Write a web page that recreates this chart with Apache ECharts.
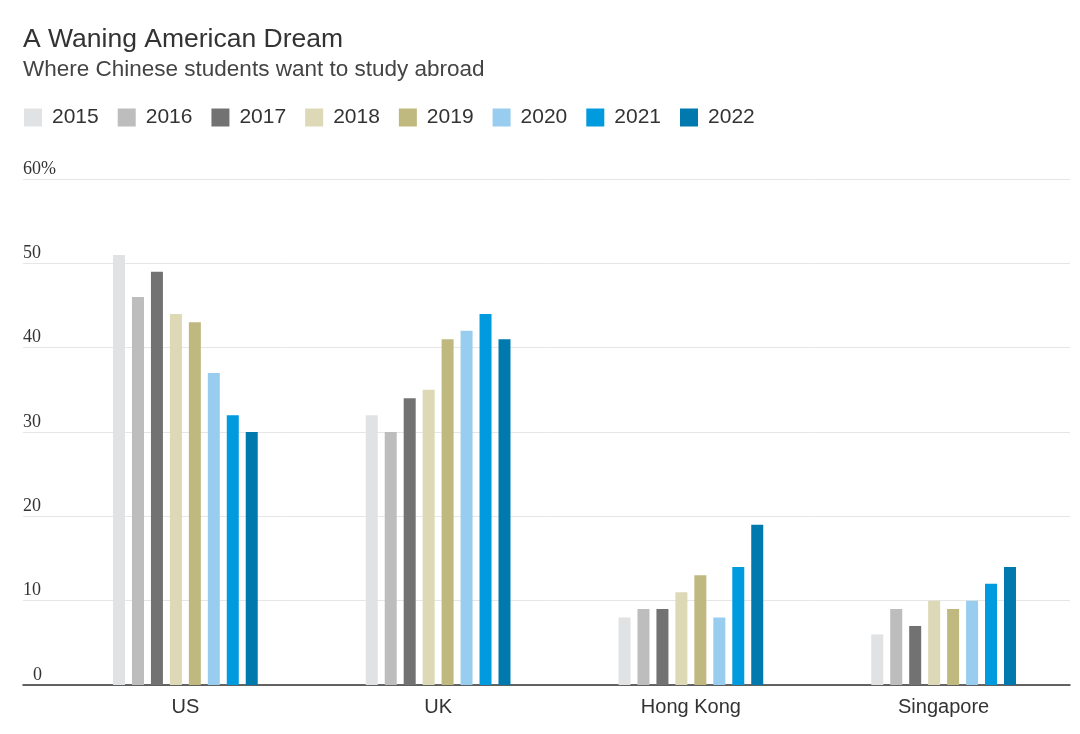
<!DOCTYPE html>
<html>
<head>
<meta charset="utf-8">
<script src="https://cdn.jsdelivr.net/npm/echarts@6/dist/echarts.min.js"></script>
<style>
html,body{margin:0;padding:0;background:#fff;}
#chart{width:1080px;height:734px;}
</style>
</head>
<body>
<div id="chart"></div>
<script>
const categories = ['US', 'UK', 'Hong Kong', 'Singapore'];
const years = ['2015', '2016', '2017', '2018', '2019', '2020', '2021', '2022'];
const v2015 = [51, 32, 8, 6];
const v2016 = [46, 30, 9, 9];
const v2017 = [49, 34, 9, 7];
const v2018 = [44, 35, 11, 10];
const v2019 = [43, 41, 13, 9];
const v2020 = [37, 42, 8, 10];
const v2021 = [32, 44, 14, 12];
const v2022 = [30, 41, 19, 14];
const yTicks = [0, 10, 20, 30, 40, 50, 60];
const colors = ['#e1e2e4', '#bdbdbd', '#727272', '#ddd9b7', '#bfb97f', '#99cdef', '#009ade', '#0079af'];

const seriesValues = [v2015, v2016, v2017, v2018, v2019, v2020, v2021, v2022];

const chart = echarts.init(document.getElementById('chart'), null, {renderer: 'canvas'});
const option = {
  animation: false,
  backgroundColor: '#ffffff',
  color: colors,
  title: {
    text: 'A Waning American Dream',
    subtext: 'Where Chinese students want to study abroad',
    left: 18,
    top: 21,
    itemGap: 5,
    textStyle: {fontFamily: 'Liberation Sans', fontSize: 26.5, fontWeight: 'normal', color: '#333333'},
    subtextStyle: {fontFamily: 'Liberation Sans', fontSize: 22.5, color: '#444444'}
  },
  legend: {
    left: 19,
    top: 102,
    icon: 'rect',
    itemWidth: 18,
    itemHeight: 18,
    itemGap: 19,
    textStyle: {fontFamily: 'Liberation Sans', fontSize: 21, color: '#333333', padding: [0, 0, 0, 5]},
    data: years
  },
  grid: [
    {left: 59, right: 10, top: 179, bottom: 49},
    {left: 23, right: 10, top: 179, bottom: 49}
  ],
  xAxis: [
    {
      type: 'category', gridIndex: 0, data: categories,
      axisLine: {show: false}, axisTick: {show: false},
      axisLabel: {fontFamily: 'Liberation Sans', fontSize: 20, color: '#333333', margin: 12}
    },
    {
      type: 'category', gridIndex: 1, data: categories,
      axisLine: {show: true, lineStyle: {color: '#333333', width: 1.5}},
      axisTick: {show: false}, axisLabel: {show: false}
    }
  ],
  yAxis: [
    {type: 'value', gridIndex: 0, min: 0, max: 60, interval: 10, show: false, splitLine: {show: false}},
    {
      type: 'value', gridIndex: 1, min: 0, max: 60, interval: 10,
      axisLine: {show: false}, axisTick: {show: false},
      splitLine: {show: true, lineStyle: {color: '#e6e6e6', width: 1}},
      axisLabel: {
        inside: true, margin: 0, align: 'left', verticalAlign: 'bottom',
        fontFamily: 'Liberation Serif', fontSize: 18, color: '#333333',
        padding: [0, 0, 1, 0],
        formatter: function (v) {
          if (v === 60) return '60%';
          if (v === 0) return '{z|0}';
          return String(v);
        },
        rich: {z: {fontFamily: 'Liberation Serif', fontSize: 18, color: '#333333', padding: [0, 0, 0, 10]}}
      }
    }
  ],
  series: years.map(function (y, i) {
    return {
      name: y, type: 'bar', xAxisIndex: 0, yAxisIndex: 0,
      data: seriesValues[i], barWidth: 12, barGap: '58%',
      itemStyle: {color: colors[i]}
    };
  })
};
chart.setOption(option);
</script>
</body>
</html>
